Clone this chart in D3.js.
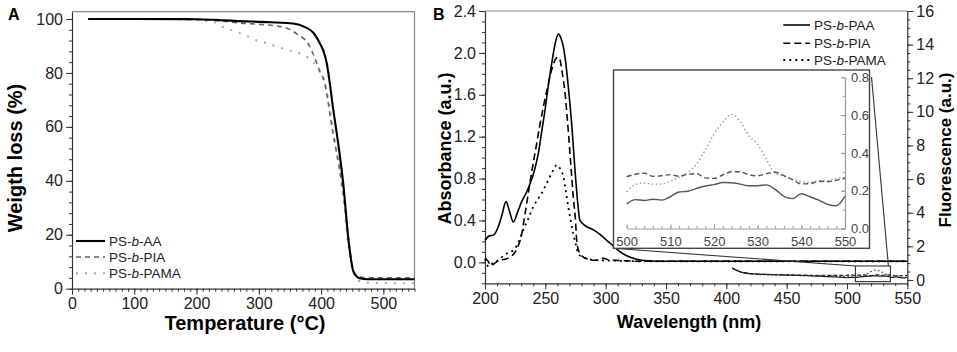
<!DOCTYPE html>
<html>
<head>
<meta charset="utf-8">
<script src="https://cdn.jsdelivr.net/npm/d3@7"></script>
<style>
  body { margin: 0; background: #fff; }
  svg { display: block; font-family: "Liberation Sans", Arial, sans-serif; }
</style>
</head>
<body>
<svg id="chart" width="957" height="352"></svg>
<script>
// ---- panel A : TGA (weight vs temperature) ----
const paaTemp = [26, 100, 200, 227, 260, 318, 355, 374, 388, 398, 404, 409, 414, 418, 423, 428, 436, 444, 452, 462, 475, 550];
const paaWeight = [100, 100, 99.9, 99.7, 99.3, 98.8, 98.3, 97, 94.8, 91, 88, 83.7, 76.2, 69, 61, 53, 38, 18, 6.3, 3.9, 3.5, 3.5];
const piaTemp = [26, 100, 200, 240, 270, 307, 339, 361, 380, 390, 398, 406, 410, 416, 422, 430, 438, 446, 454, 464, 475, 550];
const piaWeight = [100, 100, 99.8, 99.2, 98.5, 97.9, 97, 94.5, 90.5, 85.5, 80.5, 76.2, 71, 62, 54, 44, 31, 15, 5.5, 4.3, 4, 4];
const pamaTemp = [26, 100, 150, 200, 228, 243, 262, 278, 297, 313, 329, 345, 364, 380, 393, 404, 412, 420, 428, 436, 444, 452, 460, 470, 550];
const pamaWeight = [100, 100, 99.9, 99.6, 98.8, 97, 95.4, 94, 92, 91, 89.8, 88.6, 87.4, 85.5, 82.4, 77.5, 70, 58, 46, 33, 16, 6, 3, 2.2, 2];
const tgaLabels = ['AA', 'PIA', 'PAMA'];

// ---- panel B : absorbance ----
const paaAbsWl = [200, 203, 207, 211, 214, 217.4, 220, 223.5, 227, 230.4, 234, 237.3, 241, 244.2, 247, 249.7, 252, 255.3, 258, 260.8, 263, 264.9, 267, 269, 272, 274.6, 277, 278.7, 283, 289.8, 295, 300.9, 306, 312, 318, 325.7, 335, 350, 400, 450, 500, 550];
const paaAbs = [0.21, 0.25, 0.26, 0.34, 0.45, 0.58, 0.5, 0.385, 0.48, 0.58, 0.66, 0.75, 0.88, 1.04, 1.25, 1.45, 1.65, 1.9, 2.08, 2.18, 2.14, 2.06, 1.9, 1.68, 1.3, 0.88, 0.55, 0.4, 0.35, 0.31, 0.27, 0.21, 0.16, 0.1, 0.06, 0.03, 0.015, 0.01, 0.01, 0.01, 0.01, 0.01];
const piaAbsWl = [200, 202, 205, 209, 212.4, 218, 222, 226, 230.4, 233, 235.9, 238.5, 241.4, 245, 248.3, 252, 255.3, 258, 260, 262, 263.6, 266, 269, 271, 273.2, 275, 276, 278, 281.5, 286, 289.8, 293, 297, 300, 303, 307, 315, 330, 400, 450, 500, 550];
const piaAbs = [0.04, 0.02, -0.03, 0.0, 0.02, 0.035, 0.06, 0.12, 0.27, 0.45, 0.66, 0.85, 1.04, 1.28, 1.48, 1.68, 1.84, 1.93, 1.96, 1.94, 1.84, 1.65, 1.26, 0.95, 0.62, 0.4, 0.21, 0.1, 0.05, 0.03, 0.02, 0.02, 0.04, 0.035, 0.02, 0.02, 0.015, 0.01, 0.01, 0.01, 0.01, 0.01];
const pamaAbsWl = [200, 203, 207, 211, 215, 219, 223.5, 228, 231.7, 236, 240, 243.5, 247, 250.5, 253.9, 257, 259.4, 262, 264.9, 267, 269, 271, 273.2, 275.5, 277.4, 281, 286.5, 295, 310, 330, 400, 550];
const pamaAbs = [0.03, -0.04, 0.0, 0.02, 0.06, 0.09, 0.115, 0.2, 0.31, 0.42, 0.53, 0.6, 0.66, 0.74, 0.82, 0.89, 0.93, 0.9, 0.82, 0.68, 0.53, 0.4, 0.27, 0.16, 0.08, 0.05, 0.03, 0.02, 0.015, 0.01, 0.01, 0.01];

// ---- panel B : fluorescence 405-498 nm ----
const fluoWl = [405, 408, 411, 415, 420, 425, 432, 440, 450, 460, 470, 480, 490, 498];
const paaFluo = [0.72, 0.6, 0.5, 0.42, 0.37, 0.34, 0.33, 0.31, 0.29, 0.27, 0.24, 0.21, 0.18, 0.15];
const piaFluo = [0.7, 0.6, 0.5, 0.43, 0.38, 0.35, 0.33, 0.32, 0.3, 0.29, 0.28, 0.28, 0.27, 0.27];
const pamaFluo = [0.68, 0.58, 0.48, 0.41, 0.36, 0.33, 0.31, 0.3, 0.28, 0.26, 0.25, 0.24, 0.22, 0.2];

// ---- inset : fluorescence 500-550 nm ----
const insetWl = [500, 502, 504, 506, 508, 510, 512, 514, 516, 518, 520, 522, 524, 526, 528, 530, 532, 534, 536, 538, 540, 542, 544, 546, 548, 550];
const paaInset = [0.13, 0.153, 0.148, 0.155, 0.15, 0.168, 0.193, 0.197, 0.212, 0.225, 0.232, 0.243, 0.242, 0.235, 0.226, 0.226, 0.231, 0.207, 0.17, 0.158, 0.184, 0.168, 0.15, 0.128, 0.12, 0.171];
const piaInset = [0.274, 0.287, 0.293, 0.276, 0.279, 0.285, 0.276, 0.287, 0.29, 0.268, 0.265, 0.283, 0.3, 0.3, 0.284, 0.279, 0.29, 0.298, 0.28, 0.258, 0.236, 0.237, 0.25, 0.248, 0.255, 0.265];
const pamaInset = [0.194, 0.233, 0.241, 0.235, 0.235, 0.25, 0.27, 0.298, 0.34, 0.415, 0.5, 0.562, 0.603, 0.565, 0.49, 0.445, 0.365, 0.292, 0.277, 0.26, 0.248, 0.245, 0.253, 0.253, 0.264, 0.27];
const absLabels = ['PAA', 'PIA', 'PAMA'];
const zoomWl = [507, 536];
const zoomFluo = [-0.1, 0.83];

const svg = d3.select('#chart');
const fmt1 = d3.format('.1f');

function zipXY(xs, ys) { return xs.map((v, i) => [v, ys[i]]); }

function styleAxis(g, col, fs) {
  g.selectAll('path.domain').attr('stroke', col).attr('stroke-width', 1.2);
  g.selectAll('.tick line').attr('stroke', col);
  g.selectAll('.tick text').attr('fill', '#222').style('font-size', fs + 'px').style('font-family', '"Liberation Sans", Arial, sans-serif');
}
function minor(g) {
  g.select('path.domain').remove();
  g.selectAll('.tick text').remove();
}

function drawSeries(g, pts, x, y, st) {
  g.append('path').datum(pts)
    .attr('d', d3.line().x(d => x(d[0])).y(d => y(d[1])).curve(d3.curveMonotoneX))
    .attr('fill', 'none')
    .attr('stroke', st.color)
    .attr('stroke-width', st.width)
    .attr('stroke-dasharray', st.dash || null);
}

function legendRow(g, x0, x1, y, label, st, fs) {
  g.append('line').attr('x1', x0).attr('x2', x1).attr('y1', y).attr('y2', y)
    .attr('stroke', st.color).attr('stroke-width', st.width).attr('stroke-dasharray', st.dash || null);
  const t = g.append('text').attr('x', x1 + 4).attr('y', y).attr('dy', '0.35em')
    .style('font-size', fs + 'px').attr('fill', '#222');
  t.append('tspan').text('PS-');
  t.append('tspan').style('font-style', 'italic').text('b');
  t.append('tspan').text('-' + label);
}

// ================= Panel A =================
const xA = d3.scaleLinear().domain([0, 550]).range([72, 414.5]);
const yA = d3.scaleLinear().domain([0, 102.7]).range([288.7, 11.7]);

const gA = svg.append('g');
gA.append('line').attr('x1', 72).attr('x2', 414.5).attr('y1', 11.7).attr('y2', 11.7).attr('stroke', '#888').attr('stroke-width', 1.2);
gA.append('line').attr('x1', 414.5).attr('x2', 414.5).attr('y1', 11.7).attr('y2', 288.7).attr('stroke', '#888').attr('stroke-width', 1.2);

gA.append('g').attr('transform', `translate(0,${yA(0)})`)
  .call(d3.axisBottom(xA).tickValues(d3.range(0, 551, 10)).tickSize(3).tickFormat('')).call(minor).call(styleAxis, '#333', 16);
gA.append('g').attr('transform', `translate(${xA(0)},0)`)
  .call(d3.axisLeft(yA).tickValues(d3.range(0, 101, 4)).tickSize(3).tickFormat('')).call(minor).call(styleAxis, '#333', 16);
gA.append('g').attr('transform', `translate(0,${yA(0)})`)
  .call(d3.axisBottom(xA).tickValues(d3.range(0, 501, 100)).tickSize(6).tickPadding(3).tickSizeOuter(0)).call(styleAxis, '#333', 16);
gA.append('g').attr('transform', `translate(${xA(0)},0)`)
  .call(d3.axisLeft(yA).tickValues(d3.range(0, 101, 20)).tickSize(6).tickPadding(3).tickSizeOuter(0)).call(styleAxis, '#333', 16);

const tgaStyles = [
  { color: '#000', width: 2.1 },
  { color: '#666', width: 1.6, dash: '5,4' },
  { color: '#aaa', width: 2, dash: '2,7' }
];
drawSeries(gA, zipXY(pamaTemp, pamaWeight), xA, yA, tgaStyles[2]);
drawSeries(gA, zipXY(piaTemp, piaWeight), xA, yA, tgaStyles[1]);
drawSeries(gA, zipXY(paaTemp, paaWeight), xA, yA, tgaStyles[0]);

[241, 257, 273.3].forEach((yy, i) => legendRow(gA, 76, 105, yy, tgaLabels[i], tgaStyles[i], 13.5));

gA.append('text').attr('x', 8).attr('y', 20).style('font-size', '16px').style('font-weight', 'bold').text('A');
gA.append('text').attr('transform', 'translate(22,158) rotate(-90)').attr('text-anchor', 'middle')
  .style('font-size', '20px').style('font-weight', 'bold').text('Weigth loss (%)');
gA.append('text').attr('x', 245).attr('y', 330).attr('text-anchor', 'middle')
  .style('font-size', '20px').style('font-weight', 'bold').text('Temperature (°C)');

// ================= Panel B =================
const xB = d3.scaleLinear().domain([200, 550]).range([485, 907.3]);
const yB = d3.scaleLinear().domain([-0.2, 2.4]).range([283.3, 11]);
const yF = d3.scaleLinear().domain([-0.2, 16]).range([283.3, 11]);

const gB = svg.append('g');
gB.append('line').attr('x1', 485).attr('x2', 907.3).attr('y1', 11).attr('y2', 11).attr('stroke', '#888').attr('stroke-width', 1.2);

gB.append('g').attr('transform', `translate(0,${yB(-0.2)})`)
  .call(d3.axisBottom(xB).tickValues(d3.range(200, 551, 10)).tickSize(3).tickFormat('')).call(minor).call(styleAxis, '#333', 16);
gB.append('g').attr('transform', `translate(${xB(200)},0)`)
  .call(d3.axisLeft(yB).tickValues(d3.range(-2, 25, 1).map(v => v / 10)).tickSize(3).tickFormat('')).call(minor).call(styleAxis, '#333', 16);
gB.append('g').attr('transform', `translate(${xB(550)},0)`)
  .call(d3.axisRight(yF).tickValues(d3.range(0, 16.1, 0.5)).tickSize(3).tickFormat('')).call(minor).call(styleAxis, '#333', 16);
gB.append('g').attr('transform', `translate(0,${yB(-0.2)})`)
  .call(d3.axisBottom(xB).tickValues(d3.range(200, 551, 50)).tickSize(6).tickPadding(3).tickSizeOuter(0)).call(styleAxis, '#333', 16);
gB.append('g').attr('transform', `translate(${xB(200)},0)`)
  .call(d3.axisLeft(yB).tickValues([0, 0.4, 0.8, 1.2, 1.6, 2.0, 2.4]).tickFormat(fmt1).tickSize(6).tickPadding(3).tickSizeOuter(0)).call(styleAxis, '#333', 16);
gB.append('g').attr('transform', `translate(${xB(550)},0)`)
  .call(d3.axisRight(yF).tickValues(d3.range(0, 17, 2)).tickSize(6).tickPadding(3).tickSizeOuter(0)).call(styleAxis, '#333', 16);

const absStyles = [
  { color: '#000', width: 1.6 },
  { color: '#000', width: 1.6, dash: '7,4' },
  { color: '#000', width: 1.8, dash: '2,4' }
];
const fluoStyles = [
  { color: '#222', width: 1.2 },
  { color: '#222', width: 1.2, dash: '4,2' },
  { color: '#444', width: 1.2, dash: '1.5,2.5' }
];

drawSeries(gB, zipXY(pamaAbsWl, pamaAbs), xB, yB, absStyles[2]);
drawSeries(gB, zipXY(piaAbsWl, piaAbs), xB, yB, absStyles[1]);
drawSeries(gB, zipXY(paaAbsWl, paaAbs), xB, yB, absStyles[0]);

drawSeries(gB, zipXY(fluoWl.concat(insetWl), pamaFluo.concat(pamaInset)), xB, yF, fluoStyles[2]);
drawSeries(gB, zipXY(fluoWl.concat(insetWl), piaFluo.concat(piaInset)), xB, yF, fluoStyles[1]);
drawSeries(gB, zipXY(fluoWl.concat(insetWl), paaFluo.concat(paaInset)), xB, yF, fluoStyles[0]);

// zoom window on the fluorescence traces
const zx0 = xB(zoomWl[0]), zx1 = xB(zoomWl[1]), zy0 = yF(zoomFluo[1]), zy1 = yF(zoomFluo[0]);
gB.append('rect').attr('x', zx0).attr('y', zy0).attr('width', zx1 - zx0).attr('height', zy1 - zy0)
  .attr('fill', 'none').attr('stroke', '#333').attr('stroke-width', 1.1);

// ---- inset ----
const box = { x0: 613.5, y0: 70, x1: 869.5, y1: 248.3 };
const xI = d3.scaleLinear().domain([500, 550]).range([626.7, 845]);
const yI = d3.scaleLinear().domain([0, 0.8]).range([228.5, 77.3]);

gB.append('line').attr('x1', box.x0).attr('y1', box.y1).attr('x2', zx0).attr('y2', zy0).attr('stroke', '#333').attr('stroke-width', 1.1);
gB.append('line').attr('x1', box.x1 + 2).attr('y1', box.y0 + 7).attr('x2', zx1 - 2).attr('y2', zy0).attr('stroke', '#333').attr('stroke-width', 1.1);

const gI = gB.append('g');
gI.append('rect').attr('x', box.x0).attr('y', box.y0).attr('width', box.x1 - box.x0).attr('height', box.y1 - box.y0)
  .attr('fill', '#fff').attr('stroke', '#444').attr('stroke-width', 1.4);
gI.append('g').attr('transform', `translate(0,${yI(0)})`)
  .call(d3.axisBottom(xI).tickValues(d3.range(500, 551, 2)).tickSize(-2.5).tickFormat('')).call(minor).call(styleAxis, '#999', 13);
gI.append('g').attr('transform', `translate(${xI(550)},0)`)
  .call(d3.axisRight(yI).tickValues(d3.range(0, 9, 1).map(v => v / 10)).tickSize(-2.5).tickFormat('')).call(minor).call(styleAxis, '#999', 13);
gI.append('g').attr('transform', `translate(0,${yI(0)})`)
  .call(d3.axisBottom(xI).tickValues(d3.range(500, 551, 10)).tickSize(-4).tickPadding(8).tickSizeOuter(0)).call(styleAxis, '#999', 13);
gI.append('g').attr('transform', `translate(${xI(550)},0)`)
  .call(d3.axisRight(yI).tickValues([0, 0.2, 0.4, 0.6, 0.8]).tickFormat(fmt1).tickSize(-4).tickPadding(6).tickSizeOuter(0)).call(styleAxis, '#999', 13);
gI.selectAll('.tick text').attr('fill', '#444');

const insetStyles = [
  { color: '#555', width: 1.4 },
  { color: '#555', width: 1.4, dash: '5,3' },
  { color: '#999', width: 1.4, dash: '1.5,2.5' }
];
drawSeries(gI, zipXY(insetWl, pamaInset), xI, yI, insetStyles[2]);
drawSeries(gI, zipXY(insetWl, piaInset), xI, yI, insetStyles[1]);
drawSeries(gI, zipXY(insetWl, paaInset), xI, yI, insetStyles[0]);

[25, 43.3, 60].forEach((yy, i) => legendRow(gB, 783.3, 810, yy, absLabels[i], absStyles[i], 13.5));

gB.append('text').attr('x', 433).attr('y', 20).style('font-size', '16px').style('font-weight', 'bold').text('B');
gB.append('text').attr('transform', 'translate(451,148.5) rotate(-90)').attr('text-anchor', 'middle')
  .style('font-size', '18px').style('font-weight', 'bold').text('Absorbance (a.u.)');
gB.append('text').attr('transform', 'translate(951,150) rotate(-90)').attr('text-anchor', 'middle')
  .style('font-size', '17px').style('font-weight', 'bold').text('Fluorescence (a.u.)');
gB.append('text').attr('x', 689).attr('y', 328).attr('text-anchor', 'middle')
  .style('font-size', '18px').style('font-weight', 'bold').text('Wavelength (nm)');
</script>
</body>
</html>
